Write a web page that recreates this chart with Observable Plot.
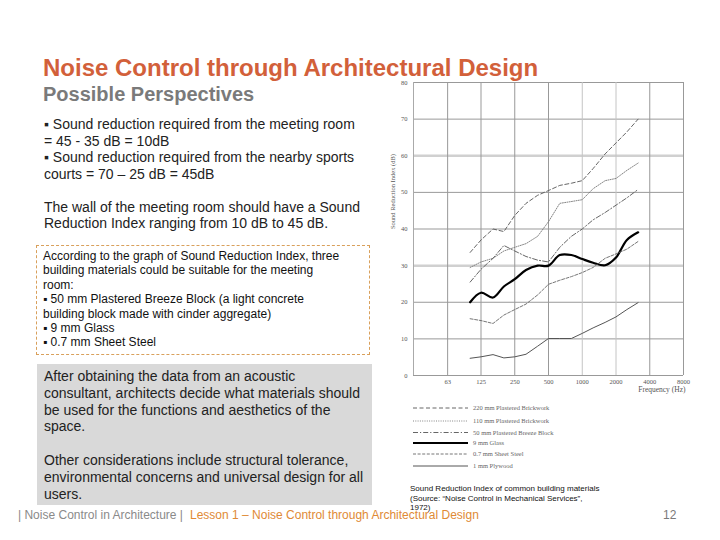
<!DOCTYPE html>
<html>
<head>
<meta charset="utf-8">
<script src="https://cdn.jsdelivr.net/npm/d3@7"></script>
<script src="https://cdn.jsdelivr.net/npm/@observablehq/plot@0.6"></script>
<style>
  html, body { margin: 0; padding: 0; background: #fff; }
  #slide { position: relative; width: 720px; height: 540px; overflow: hidden; background: #fff; font-family: "Liberation Sans", Arial, sans-serif; }
  .abs { position: absolute; white-space: nowrap; }
  #title { left: 43px; top: 54px; font-size: 24px; font-weight: bold; color: #D2603A; }
  #subtitle { left: 43px; top: 83px; font-size: 20px; font-weight: bold; color: #7a7a7a; }
  #bullets { left: 44px; top: 116px; font-size: 14px; line-height: 16.5px; color: #222; }
  #dashbox { left: 36px; top: 245px; width: 334px; height: 110px; border: 1px dashed #D9A05B; box-sizing: border-box; }
  #boxtext { left: 43px; top: 249px; font-size: 12px; line-height: 14.4px; color: #111; }
  #graybox { left: 37px; top: 364px; width: 335px; height: 141px; background: #d9d9d9; }
  #graytext { left: 44px; top: 368px; font-size: 14px; line-height: 16.8px; color: #222; }
  #footer1 { left: 18px; top: 508px; font-size: 12px; color: #8a8a8a; }
  #footer2 { left: 190px; top: 508px; font-size: 12px; color: #E08A35; }
  #pagenum { left: 663px; top: 508px; font-size: 12px; color: #7a7a7a; }
  #caption { left: 410px; top: 484px; font-size: 8px; line-height: 9.6px; color: #111; }
  #chart { position: absolute; left: 380px; top: 70px; }
  #legend { position: absolute; left: 405px; top: 398px; }
</style>
</head>
<body>
<div id="slide">
  <div class="abs" id="title">Noise Control through Architectural Design</div>
  <div class="abs" id="subtitle">Possible Perspectives</div>
  <div class="abs" id="bullets">▪ Sound reduction required from the meeting room<br>= 45 - 35 dB = 10dB<br>▪ Sound reduction required from the nearby sports<br>courts = 70 – 25 dB = 45dB<br><br>The wall of the meeting room should have a Sound<br>Reduction Index ranging from 10 dB to 45 dB.</div>
  <div class="abs" id="dashbox"></div>
  <div class="abs" id="boxtext">According to the graph of Sound Reduction Index, three<br>building materials could be suitable for the meeting<br>room:<br>▪ 50 mm Plastered Breeze Block (a light concrete<br>building block made with cinder aggregate)<br>▪ 9 mm Glass<br>▪ 0.7 mm Sheet Steel</div>
  <div class="abs" id="graybox"></div>
  <div class="abs" id="graytext">After obtaining the data from an acoustic<br>consultant, architects decide what materials should<br>be used for the functions and aesthetics of the<br>space.<br><br>Other considerations include structural tolerance,<br>environmental concerns and universal design for all<br>users.</div>
  <div class="abs" id="caption">Sound Reduction Index of common building materials<br>(Source: “Noise Control in Mechanical Services”,<br>1972)</div>
  <div class="abs" id="footer1">| Noise Control in Architecture |</div>
  <div class="abs" id="footer2">Lesson 1 – Noise Control through Architectural Design</div>
  <div class="abs" id="pagenum">12</div>
  <div id="chart"></div>
  <div id="legend"></div>
</div>
<script>
// ---- data ----
const freqs = [100, 125, 160, 200, 250, 315, 400, 500, 630, 800, 1000, 1250, 1600, 2000, 2500, 3150];
const brick220 = [33.6, 37, 40, 39.3, 43.7, 47, 49.2, 50.5, 51.9, 52.5, 53.2, 56.5, 60.5, 63.5, 66.5, 70];
const brick110 = [29.5, 31, 32, 34, 35, 36, 38, 42, 47, 47.5, 48, 51, 53.2, 53.8, 56, 58];
const breeze50 = [25.5, 29, 32, 35.5, 34, 32.5, 31.5, 31, 35, 38, 40, 42.5, 44.5, 46.5, 48.5, 50.8];
const glass9 = [20, 22.6, 21.3, 24.3, 26.3, 28.8, 30, 30, 32.9, 32.9, 31.8, 30.8, 30.1, 32.2, 37, 39.1];
const steel07 = [15.5, 15, 14.2, 16.5, 18, 19.5, 22, 24.9, 26, 27, 28.1, 29.5, 32, 33.2, 34.5, 36.6];
const plywood1 = [4.7, 5.1, 5.7, 4.8, 5.1, 5.8, 8, 10.1, 10.1, 10.1, 11.5, 13, 14.5, 16, 18, 19.9];
const seriesNames = ["220 mm Plastered Brickwork", "110 mm Plastered Brickwork", "50 mm Plastered Breeze Block", "9 mm Glass", "0.7 mm Sheet Steel", "1 mm Plywood"];
const xTicks = [63, 125, 250, 500, 1000, 2000, 4000, 8000];
const yTicks = [0, 10, 20, 30, 40, 50, 60, 70, 80];
const yLabel = "Sound Reduction Index (dB)";
const xLabel = "Frequency (Hz)";

const seriesValues = [brick220, brick110, breeze50, glass9, steel07, plywood1];
const styles = [
  {stroke: "#555", strokeWidth: 0.9, strokeDasharray: "4,2.5"},
  {stroke: "#777", strokeWidth: 0.9, strokeDasharray: "1,1.3"},
  {stroke: "#555", strokeWidth: 0.9, strokeDasharray: "5,2,1.2,2"},
  {stroke: "#000", strokeWidth: 2.2},
  {stroke: "#666", strokeWidth: 0.9, strokeDasharray: "3,1.6"},
  {stroke: "#555", strokeWidth: 1}
];
const tables = seriesValues.map((vals, i) => freqs.map((f, j) => ({series: seriesNames[i], f, v: vals[j]})));

const lineMarks = tables.map((t, i) => Plot.line(t, {x: "f", y: "v", ...styles[i], curve: i === 3 ? "catmull-rom" : "linear"}));

const chart = Plot.plot({
  width: 320,
  height: 340,
  marginLeft: 33,
  marginRight: 17,
  marginTop: 12,
  marginBottom: 35,
  style: {fontFamily: "'Liberation Serif', serif", fontSize: "6.5px", color: "#555", background: "transparent"},
  x: {type: "log", domain: [31.25, 8000], axis: null},
  y: {domain: [0, 80], ticks: yTicks, tickSize: 0, tickPadding: 6, label: null},
  marks: [
    Plot.ruleY(yTicks.filter(d => d !== 30 && d !== 60 && d !== 0), {stroke: "#999", strokeWidth: 1}),
    Plot.ruleY([30, 60], {stroke: "#d0d0d0", strokeWidth: 2.5}),
    Plot.ruleX(xTicks.filter(d => d !== 1000 && d !== 2000), {stroke: "#999", strokeWidth: 1}),
    Plot.ruleX([1000, 2000], {stroke: "#c4c4c4", strokeWidth: 1}),
    Plot.ruleX([31.25], {stroke: "#aaa", strokeWidth: 1}),
    Plot.ruleY([0], {stroke: "#999", strokeWidth: 1}),
    ...lineMarks,
    Plot.text(xTicks, {x: d => d, frameAnchor: "bottom", dy: 8, text: d => `${d}`, fill: "#555", fontSize: 6.5}),
    Plot.text([yLabel], {frameAnchor: "left", rotate: -90, dx: -21, fill: "#555", fontSize: 6.5}),
    Plot.text([xLabel], {frameAnchor: "bottom-right", dy: 16, dx: 2, textAnchor: "end", fill: "#555", fontSize: 7.5})
  ]
});
document.getElementById("chart").appendChild(chart);

// ---- legend ----
const lg = d3.select("#legend").append("svg").attr("width", 220).attr("height", 75)
  .style("font-family", "'Liberation Serif', serif");
const rowY = [10, 23, 34.5, 45, 56, 68];
seriesNames.forEach((name, i) => {
  const s = styles[i];
  lg.append("line").attr("x1", 8).attr("x2", 63).attr("y1", rowY[i]).attr("y2", rowY[i])
    .attr("stroke", s.stroke).attr("stroke-width", s.strokeWidth === 2.2 ? 2 : s.strokeWidth)
    .attr("stroke-dasharray", s.strokeDasharray || null);
  lg.append("text").attr("x", 68).attr("y", rowY[i]).attr("dy", "0.35em")
    .attr("font-size", 6.5).attr("fill", "#666").text(name);
});
</script>
</body>
</html>
